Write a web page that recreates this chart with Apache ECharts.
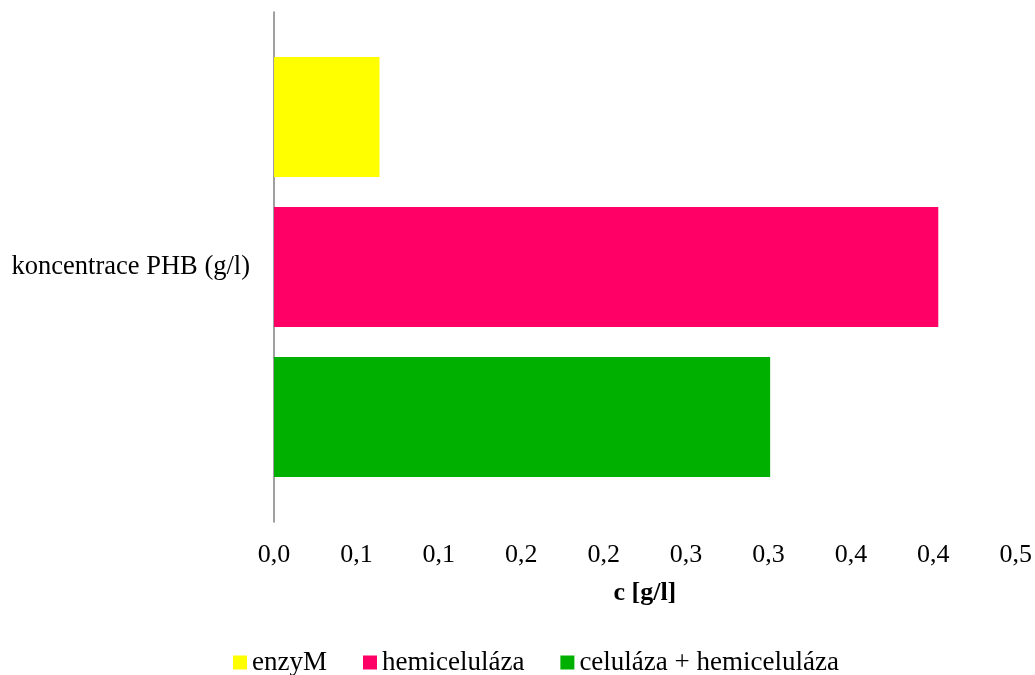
<!DOCTYPE html>
<html>
<head>
<meta charset="utf-8">
<script src="https://cdn.jsdelivr.net/npm/echarts@6/dist/echarts.min.js"></script>
<style>
  html, body { margin: 0; padding: 0; background: #fff; }
  #chart { width: 1035px; height: 675px; }
</style>
</head>
<body>
<div id="chart"></div>
<script>
// PHB concentration by enzyme treatment
const categories = ['koncentrace PHB (g/l)'];
const seriesNames = ['enzyM', 'hemiceluláza', 'celuláza + hemiceluláza'];
const enzyM = [0.064];
const hemicelulaza = [0.403];
const celulazaHemicelulaza = [0.301];
const seriesValues = [enzyM, hemicelulaza, celulazaHemicelulaza];
const seriesColors = ['#FFFF00', '#FF0066', '#00B000'];
const xTickLabels = ['0,0', '0,1', '0,1', '0,2', '0,2', '0,3', '0,3', '0,4', '0,4', '0,5'];
const xStep = 0.05;

const font = '"Liberation Serif", "Times New Roman", serif';

const chart = echarts.init(document.getElementById('chart'), null, { renderer: 'canvas' });

chart.setOption({
  animation: false,
  backgroundColor: '#ffffff',
  textStyle: { fontFamily: font, color: '#000' },
  grid: { left: 274, right: 19, top: 12, bottom: 153, containLabel: false },
  legend: {
    left: 233,
    top: 649,
    padding: 0,
    itemWidth: 14,
    itemHeight: 14,
    itemGap: 36,
    icon: 'rect',
    textStyle: { fontFamily: font, fontSize: 27, color: '#000' },
    data: seriesNames
  },
  xAxis: {
    type: 'value',
    min: 0,
    max: xStep * (xTickLabels.length - 1),
    interval: xStep,
    name: 'c [g/l]',
    nameLocation: 'middle',
    nameGap: 58,
    nameTextStyle: { fontFamily: font, fontSize: 26, fontWeight: 'bold', color: '#000' },
    axisLine: { show: false },
    axisTick: { show: false },
    splitLine: { show: false },
    axisLabel: {
      fontFamily: font,
      fontSize: 26,
      color: '#000',
      margin: 20,
      formatter: v => xTickLabels[Math.round(v / xStep)]
    }
  },
  yAxis: {
    type: 'category',
    inverse: true,
    data: categories,
    axisLine: { show: true, lineStyle: { color: '#898989', width: 1.6 } },
    axisTick: { show: false },
    axisLabel: { fontFamily: font, fontSize: 26.5, color: '#000', margin: 24 }
  },
  series: seriesNames.map((name, i) => ({
    name,
    type: 'bar',
    data: seriesValues[i],
    barCategoryGap: '17.6%',
    barGap: '25%',
    itemStyle: { color: seriesColors[i] }
  }))
});
</script>
</body>
</html>
